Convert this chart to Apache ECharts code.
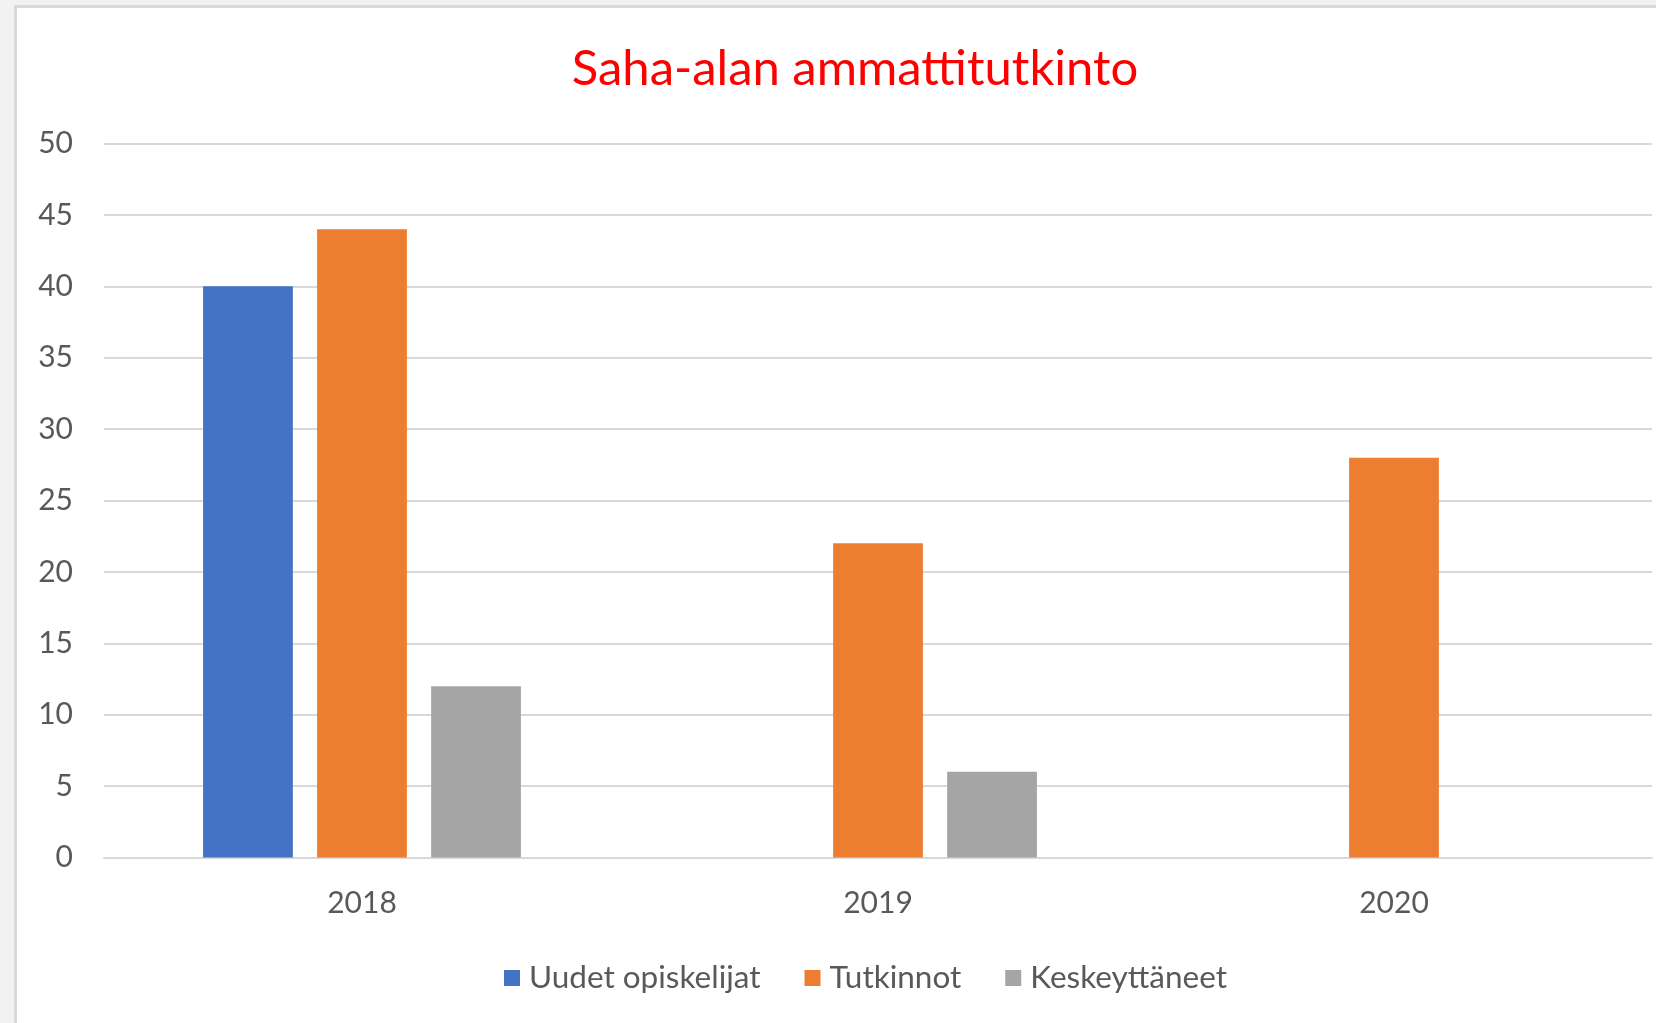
<!DOCTYPE html>
<html lang="fi">
<head>
  <meta charset="UTF-8">
  <title>Saha-alan ammattitutkinto</title>
  <script src="https://cdn.jsdelivr.net/npm/echarts@6.0.0/dist/echarts.min.js"></script>
  <style>
    body {
      margin: 0;
      padding: 0;
      background-color: #f2f2f2;
      overflow: hidden;
    }
    /* white sheet with the thin grey frame at top and left */
    .sheet {
      position: absolute;
      left: 14px;
      top: 5px;
      right: 0;
      bottom: 0;
      background-color: #fff;
      border-left: 3px solid #d9d9d9;
      border-top: 3px solid #d9d9d9;
    }
    #chart {
      position: absolute;
      left: 0;
      top: 0;
      width: 1656px;
      height: 1023px;
    }
  </style>
</head>
<body>
  <div class="sheet"></div>
  <div id="chart"></div>

  <script>
    // data
    var years = ['2018', '2019', '2020'];
    var uudetOpiskelijat = [40, 0, 0];
    var tutkinnot = [44, 22, 28];
    var keskeyttaneet = [12, 6, 0];

    var fontName = 'Lato, "Open Sans", sans-serif';
    var textGrey = '#595959';
    var gridGrey = '#d9d9d9';

    var chart = echarts.init(document.getElementById('chart'));

    var option = {
      animation: false,
      title: {
        text: 'Saha-alan ammattitutkinto',
        left: 850,
        top: 40,
        textAlign: 'center',
        textStyle: {
          color: '#ff0000',
          fontFamily: fontName,
          fontWeight: 'normal',
          fontSize: 49
        }
      },
      legend: {
        bottom: 24,
        left: 499,
        itemWidth: 16,
        itemHeight: 16,
        itemGap: 44,
        icon: 'rect',
        textStyle: {
          color: textGrey,
          fontFamily: fontName,
          fontSize: 31.5,
          padding: [0, 0, 0, 4]
        }
      },
      grid: {
        left: 104,
        right: 4,
        top: 143.5,
        bottom: 165.5
      },
      xAxis: {
        type: 'category',
        data: years,
        axisTick: { show: false },
        axisLine: { lineStyle: { color: gridGrey, width: 2 } },
        axisLabel: {
          color: textGrey,
          fontFamily: fontName,
          fontSize: 30,
          margin: 31
        }
      },
      yAxis: {
        type: 'value',
        min: 0,
        max: 50,
        interval: 5,
        axisLine: { show: false },
        axisTick: { show: false },
        splitLine: { lineStyle: { color: gridGrey, width: 2 } },
        axisLabel: {
          color: textGrey,
          fontFamily: fontName,
          fontSize: 30,
          margin: 31
        }
      },
      series: [
        {
          name: 'Uudet opiskelijat',
          type: 'bar',
          data: uudetOpiskelijat,
          barWidth: '17.4%',
          barGap: '27%',
          itemStyle: { color: '#4472c4' }
        },
        {
          name: 'Tutkinnot',
          type: 'bar',
          data: tutkinnot,
          barWidth: '17.4%',
          barGap: '27%',
          itemStyle: { color: '#ed7d31' }
        },
        {
          name: 'Keskeyttäneet',
          type: 'bar',
          data: keskeyttaneet,
          barWidth: '17.4%',
          barGap: '27%',
          itemStyle: { color: '#a5a5a5' }
        }
      ]
    };

    chart.setOption(option);
  </script>
</body>
</html>
